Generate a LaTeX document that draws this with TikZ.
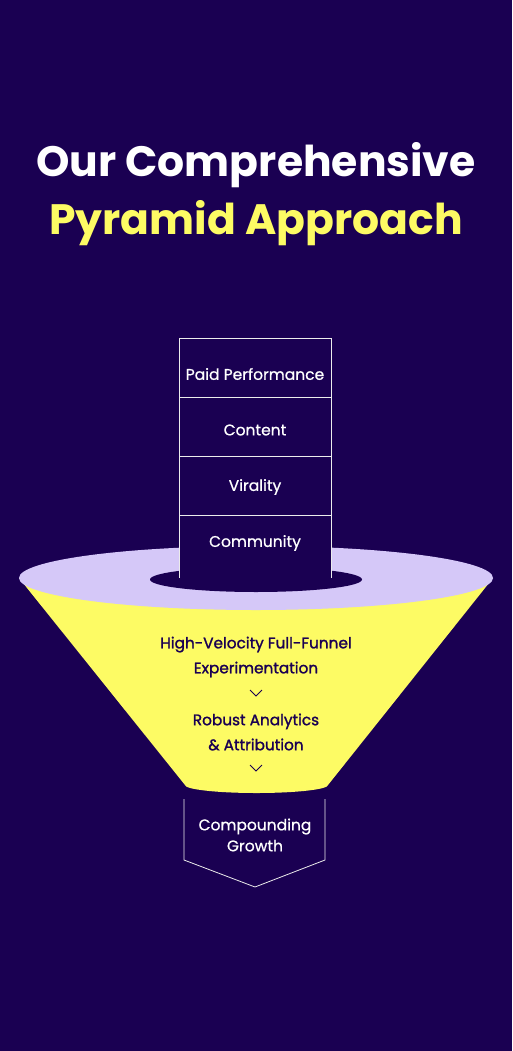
\documentclass[tikz,border=0pt]{standalone}
\usepackage{fontspec}
\setmainfont{Poppins}
\newfontfamily\labelfont{Poppins}[FakeBold=0.7]
\newfontfamily\funnelfont{Poppins}[FakeBold=1.4]
\usetikzlibrary{positioning, calc}

\definecolor{bgnavy}{HTML}{1A0052}
\definecolor{hiyellow}{HTML}{FDFB64}
\definecolor{lavender}{HTML}{D5C8F8}

\begin{document}
\begin{tikzpicture}[x=1pt, y=-1pt,
    titletxt/.style={font=\fontsize{42.5}{48}\selectfont\bfseries, inner sep=0pt},
    rowtxt/.style={font=\labelfont\fontsize{15.5}{18}\selectfont, text=white, inner sep=0pt},
    funneltxt/.style={font=\funnelfont\fontsize{15.3}{25}\selectfont, text=bgnavy, align=center, inner sep=0pt},
    outline/.style={draw=white!85!gray, line width=0.8pt},
    chevron/.style={draw=bgnavy, line width=1pt}]
    \fill[bgnavy] (0,0) rectangle (512,1051);
    \node[titletxt, text=white] (title) at (256,165) {Our Comprehensive};
    \node[titletxt, text=hiyellow] (subtitle) at (256,223) {Pyramid Approach};
    % funnel body
    \fill[hiyellow] (19,578) -- (185,785) arc[start angle=180, end angle=0, x radius=71.5, y radius=8]
        -- (493,578) -- cycle;
    \fill[lavender] (256,578) ellipse[x radius=237, y radius=32];
    \fill[bgnavy] (256,579.5) ellipse[x radius=106, y radius=12.5];
    % stacked layers
    \fill[bgnavy] (179,338) rectangle (331,578);
    \draw[outline] (179,578) -- (179,338) -- (331,338) -- (331,578);
    \foreach \y in {397, 456, 515} {
        \draw[outline] (179,\y) -- (331,\y);
    }
    \foreach \i/\y/\lbl in {1/374/{Paid Performance},
                            2/430/{Content},
                            3/487/{Virality},
                            4/543/{Community}} {
        \node[rowtxt] (row\i) at (255,\y) {\lbl};
    }
    \node[funneltxt] (expt) at (256,657) {High-Velocity Full-Funnel\\Experimentation};
    \coordinate (chevA) at (256,693);
    \draw[chevron] ($(chevA)+(-6,-3)$) -- ++(6,6) -- ++(6,-6);
    \node[funneltxt] (attrib) at (256,732) {Robust Analytics\\\& Attribution};
    \coordinate (chevB) at (256,768);
    \draw[chevron] ($(chevB)+(-6,-3)$) -- ++(6,6) -- ++(6,-6);
    % outcome
    \draw[outline] (184,799) -- (184,860) -- (255,887) -- (325,860) -- (325,799);
    \node[rowtxt, align=center, font=\labelfont\fontsize{15.5}{21}\selectfont] (growth) at (255,835) {Compounding\\Growth};
\end{tikzpicture}
\end{document}
